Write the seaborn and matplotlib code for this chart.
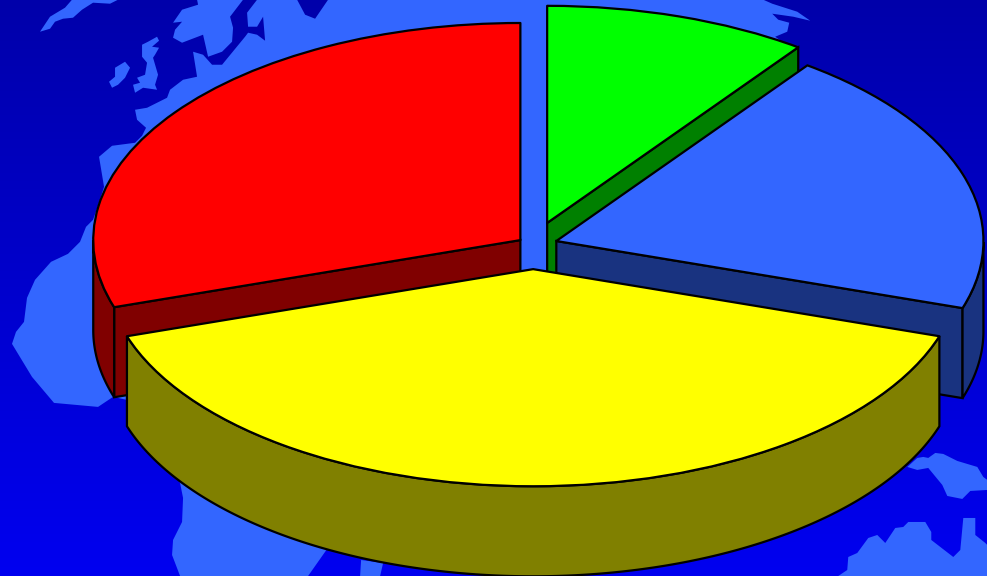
import numpy as np
import matplotlib
matplotlib.use("Agg")
import matplotlib.pyplot as plt
import seaborn as sns

# slice values, clockwise from twelve o'clock
values = [10, 20, 40, 30]
top_colors = ["#00FF00", "#3366FF", "#FFFF00", "#FF0000"]
wall_colors = ["#008000", "#193380", "#808000", "#800000"]
explode = [0.106, 0.057, 0.112, 0.037]

# map shapes behind the pie, in image pixels
land_color = "#3366FF"
iceland = [(40, 32), (50, 17), (65, 8), (72, 0), (118, 0), (110, 4), (93, 3), (82, 10), (73, 18), (63, 19), (55, 22), (50, 29)]
ireland = [(115, 68), (125, 62), (130, 68), (125, 78), (118, 85), (112, 88), (109, 82), (115, 77)]
britain = [(142, 45), (148, 42), (157, 37), (159, 41), (152, 47), (159, 48), (155, 55), (153, 58), (158, 75), (155, 85),
           (157, 90), (143, 88), (135, 93), (133, 85), (140, 83), (137, 78), (145, 75), (147, 63), (142, 57)]
scandinavia = [(197, 0), (198, 5), (182, 10), (173, 23), (182, 22), (175, 30), (173, 38), (182, 43), (203, 35), (208, 57), (222, 52), (232, 42), (233, 28), (230, 17), (243, 0)]
mainland = [(248, 27), (257, 27), (263, 17), (265, 41), (257, 35), (248, 33), (245, 37), (222, 65), (212, 65), (203, 55),
            (193, 52), (197, 77), (183, 80), (170, 90), (167, 98), (147, 108), (135, 110), (137, 120), (146, 128), (142, 136),
            (135, 143), (112, 146), (99, 157), (104, 187), (100, 200), (93, 220), (86, 227), (80, 242), (68, 254), (51, 262),
            (35, 280), (27, 298), (24, 322), (16, 332), (12, 344), (32, 377), (54, 403), (98, 407), (113, 397), (127, 400),
            (180, 483), (183, 498), (182, 522), (173, 540), (172, 555), (180, 576), (308, 576), (327, 549), (500, 400), (600, 150),
            (782, 42), (775, 37), (787, 32), (789, 23), (778, 20), (772, 14), (793, 17), (810, 21), (797, 12), (772, 4),
            (763, 0), (328, 0), (315, 19), (305, 15), (297, 0), (257, 0), (247, 13)]
island = [(361, 560), (383, 563), (380, 576), (360, 576)]
arabia = [(907, 467), (917, 458), (923, 457), (928, 458), (935, 453), (943, 454), (957, 461), (977, 467), (983, 477), (987, 480),
          (987, 490), (970, 491), (962, 499), (947, 496), (942, 485), (928, 468), (917, 470)]
australia = [(838, 576), (847, 570), (848, 557), (857, 553), (868, 538), (877, 535), (885, 543), (895, 528), (903, 527), (908, 522),
             (925, 522), (931, 532), (931, 540), (953, 557), (960, 550), (963, 518), (975, 518), (975, 535), (985, 543), (987, 545), (987, 576)]
land_shapes = [iceland, ireland, britain, scandinavia, mainland, island, arabia, australia]

# pie geometry in pixels: centre, semi axes of the ellipse, wall height
cx, cy = 533, 245
rx, ry = 427, 217
depth = 90 / ry
edge_width = 1.6

sns.set_theme(style="white")

fig = plt.figure(figsize=(9.873, 5.763), dpi=100)

# background: vertical gradient plus the map
bg = fig.add_axes([0, 0, 1, 1], zorder=0)
sky = sns.blend_palette(["#0000AA", "#0000F0"], as_cmap=True)
bg.imshow(np.linspace(0, 1, 256).reshape(-1, 1), cmap=sky, aspect="auto", extent=(0, 987, 576, 0))
for shape in land_shapes:
    bg.fill(*zip(*shape), color=land_color, lw=0)
bg.set_xlim(0, 987)
bg.set_ylim(576, 0)
bg.axis("off")

# pie: unit circle stretched into the ellipse by the axis limits
ax = fig.add_axes([0, 0, 1, 1], zorder=1)
wedges, _ = ax.pie(values, explode=explode, colors=top_colors, startangle=90, counterclock=False,
                   wedgeprops=dict(edgecolor="black", linewidth=edge_width, joinstyle="round"))
ax.set_aspect("auto")
ax.set_xlim(-cx / rx, (987 - cx) / rx)
ax.set_ylim((cy - 576) / ry, cy / ry)


def draw_walls(wedge, color, z):
    x0, y0 = wedge.center
    t1, t2 = wedge.theta1, wedge.theta2
    style = dict(facecolor=color, edgecolor="black", linewidth=edge_width, zorder=z)
    # cut faces, only those whose outward side looks down at the viewer
    for t, normal in ((t1, t1 - 90), (t2, t2 + 90)):
        if np.sin(np.radians(normal)) < -1e-6:
            px = x0 + np.cos(np.radians(t))
            py = y0 + np.sin(np.radians(t))
            ax.fill([x0, px, px, x0], [y0, py, py - depth, y0 - depth], **style)
    # outer wall, only the part facing the viewer
    theta = np.radians(np.linspace(t1, t2, 200))
    theta = theta[np.sin(theta) < 0]
    if len(theta):
        xs = x0 + np.cos(theta)
        ys = y0 + np.sin(theta)
        ax.fill(np.r_[xs, xs[::-1]], np.r_[ys, ys[::-1] - depth], **style)


# back slices first so the yellow one ends up in front
for order, i in enumerate([0, 1, 3, 2]):
    draw_walls(wedges[i], wall_colors[i], 2 * order + 1)
    wedges[i].set_zorder(2 * order + 2)

fig.savefig("out.png", dpi=100)
